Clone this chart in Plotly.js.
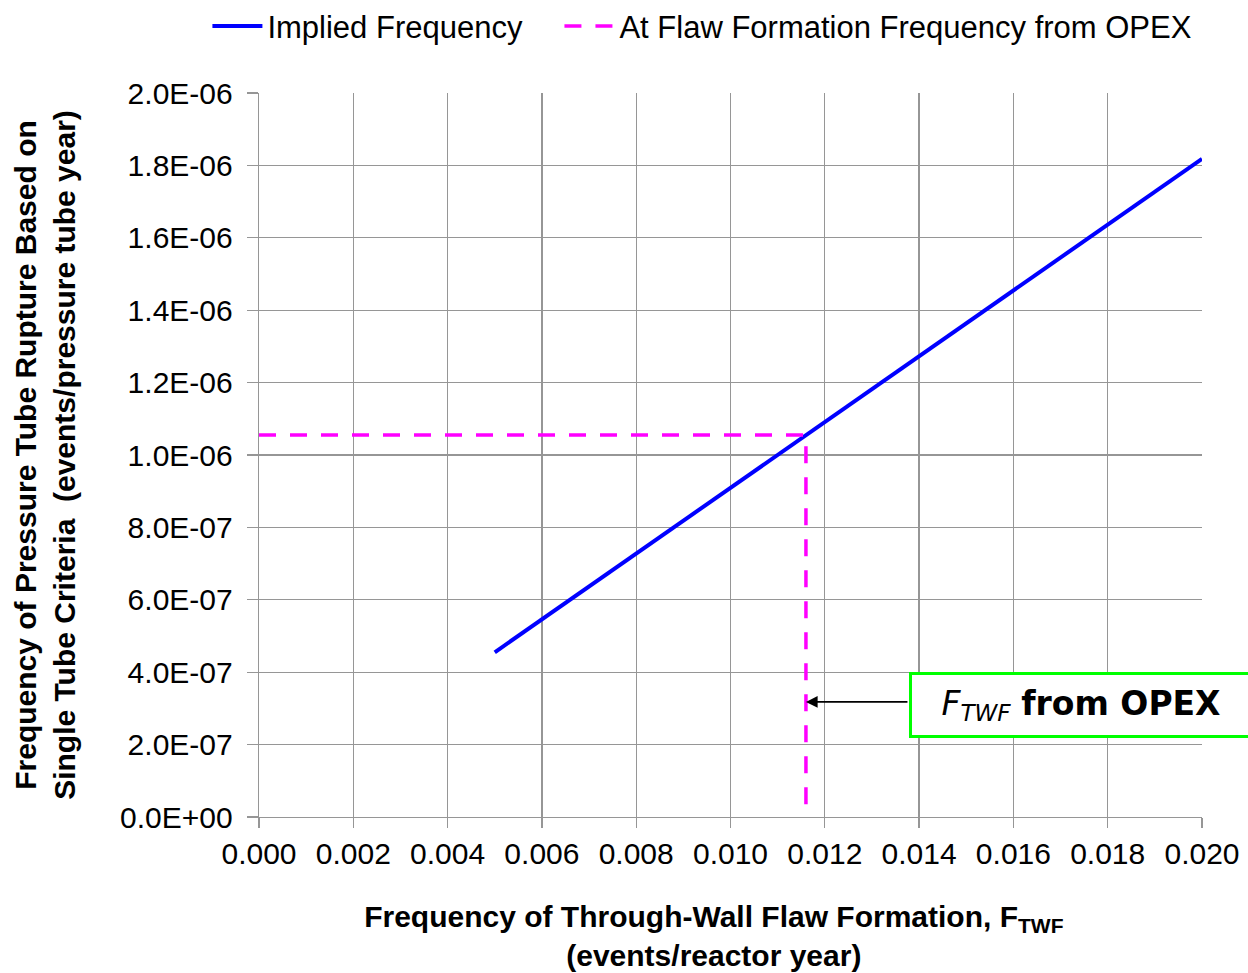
<!DOCTYPE html>
<html>
<head>
<meta charset="utf-8">
<script src="https://cdn.plot.ly/plotly-3.0.1.min.js"></script>
<style>html,body{margin:0;padding:0;background:#fff;}#chart{width:1248px;height:973px;}</style>
</head>
<body>
<div id="chart"></div>
<script>
// Implied frequency line (F_TWF vs rupture frequency)
const impliedX = [0.005, 0.020];
const impliedY = [4.55e-7, 1.818e-6];
// Dashed guide at the OPEX flaw formation frequency
const opexX = [0.0, 0.0116, 0.0116];
const opexY = [1.055e-6, 1.055e-6, 0.0];
// Axis ticks
const yTickVals = [0, 2e-7, 4e-7, 6e-7, 8e-7, 1e-6, 1.2e-6, 1.4e-6, 1.6e-6, 1.8e-6, 2e-6];
const yTickText = ["0.0E+00","2.0E-07","4.0E-07","6.0E-07","8.0E-07","1.0E-06","1.2E-06","1.4E-06","1.6E-06","1.8E-06","2.0E-06"];
const xTickVals = [0, 0.002, 0.004, 0.006, 0.008, 0.010, 0.012, 0.014, 0.016, 0.018, 0.020];
const xTickText = ["0.000","0.002","0.004","0.006","0.008","0.010","0.012","0.014","0.016","0.018","0.020"];
// Annotation point
const arrowX = 0.0116, arrowY = 3.18e-7;
const boxX = 0.013786, boxY = 3.094e-7;

const font = "Liberation Sans, Arial, sans-serif";
const grid = "#969696";
const pad = "&nbsp;&nbsp;&nbsp;&nbsp;";

const traces = [
  {x: impliedX, y: impliedY, type: "scatter", mode: "lines", name: "Implied Frequency",
   line: {color: "#0000FF", width: 4}, cliponaxis: false, legend: "legend"},
  {x: opexX, y: opexY, type: "scatter", mode: "lines", name: "At Flaw Formation Frequency from OPEX",
   line: {color: "#FF00FF", width: 3.5, dash: "17px,14px"}, cliponaxis: false, legend: "legend2"}
];

const legendFont = {family: font, size: 31, color: "#000"};

const layout = {
  width: 1248, height: 973,
  paper_bgcolor: "#fff", plot_bgcolor: "#fff",
  margin: {l: 259, r: 46, t: 93, b: 156, autoexpand: false},
  font: {family: font, color: "#000", size: 28},
  showlegend: true,
  legend: {orientation: "h", x: -0.0547, xanchor: "left", y: 1.092, yanchor: "middle",
           font: legendFont, itemwidth: 50, bgcolor: "rgba(0,0,0,0)"},
  legend2: {orientation: "h", x: 0.3186, xanchor: "left", y: 1.092, yanchor: "middle",
           font: legendFont, itemwidth: 50, bgcolor: "rgba(0,0,0,0)"},
  xaxis: {range: [0, 0.020], tickvals: xTickVals, ticktext: xTickText,
          showgrid: true, gridcolor: grid, gridwidth: 1.3, showline: true, linecolor: grid, linewidth: 1.3,
          ticks: "outside", ticklen: 10, tickcolor: grid, tickwidth: 1.3, zeroline: false,
          tickfont: {family: font, size: 30, color: "#000"},
          title: {text: "<b>Frequency of Through-Wall Flaw Formation, F<sub>TWF</sub></b>" + pad + "<br><b>(events/reactor year)</b>" + pad,
                  font: {family: font, size: 30, color: "#000"}, standoff: 36}},
  yaxis: {range: [0, 2e-6], tickvals: yTickVals, ticktext: yTickText,
          showgrid: true, gridcolor: grid, gridwidth: 1.3, showline: true, linecolor: grid, linewidth: 1.3,
          ticks: "outside", ticklen: 11, tickcolor: grid, tickwidth: 1.3, zeroline: false,
          ticklabelstandoff: 8,
          tickfont: {family: font, size: 30, color: "#000"},
          title: {text: "<b>Frequency of Pressure Tube Rupture Based on</b><br><b>Single Tube Criteria&nbsp; (events/pressure tube year)</b>",
                  font: {family: font, size: 30, color: "#000"}, standoff: 35}},
  annotations: [
    {x: arrowX, y: arrowY, xref: "x", yref: "y", text: "", showarrow: true,
     ax: 103, ay: 0, arrowhead: 2, arrowsize: 1.3, arrowwidth: 1.8, arrowcolor: "#000", standoff: 0},
    {x: boxX, y: boxY, xref: "x", yref: "y", xanchor: "left", yanchor: "middle",
     text: "<i>F<sub>TWF</sub></i> <b>from OPEX</b>", showarrow: false,
     font: {family: "DejaVu Sans, Verdana, sans-serif", size: 33, color: "#000"},
     bordercolor: "#00FF00", borderwidth: 3, borderpad: 4, bgcolor: "#fff",
     width: 330, height: 52, align: "center"}
  ]
};

Plotly.newPlot("chart", traces, layout, {staticPlot: true});
</script>
</body>
</html>
